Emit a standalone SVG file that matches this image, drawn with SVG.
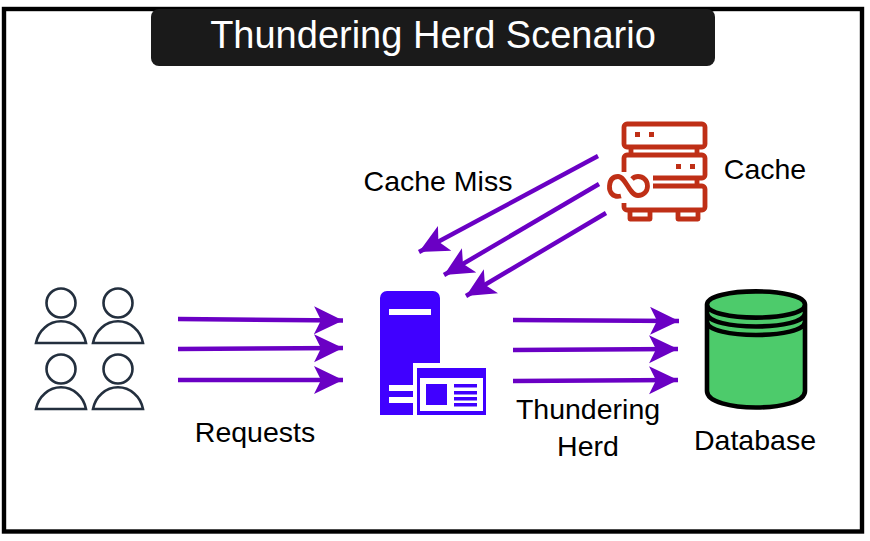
<svg xmlns="http://www.w3.org/2000/svg" width="870" height="541" viewBox="0 0 870 541">
<style>
text{font-family:"Liberation Sans",Arial,sans-serif;font-size:28.500px;fill:#000}
.a{fill:none;stroke:#6a00c4;stroke-width:4.4}
.h{fill:#6a00c4}
.u{fill:#fff;stroke:#232f3e;stroke-width:2.6}
.r{fill:none;stroke:#bf2f16;stroke-width:4.8;stroke-linejoin:round}
.s{fill:#bf2f16}
.w{fill:#fff}
.b{fill:#4000ff}
.d{fill:none;stroke:#000;stroke-width:4.6}
</style>
<defs>
<marker id="ah" markerUnits="userSpaceOnUse" markerWidth="32" markerHeight="30" refX="29" refY="14" orient="auto"><path class="h" d="M0 0L29 14L0 28L7 14Z"/></marker>
<g id="person"><path class="u" d="M-25 0A25.500 27 0 0 1 25 0Z"/><circle cx="0" cy="-40" r="14.500" class="u"/></g>
</defs>
<rect x="4" y="9" width="858" height="522.500" fill="#fff" stroke="#000" stroke-width="4.400"/>
<g id="title"><rect x="151" y="9" width="564" height="57" rx="8" fill="#1a1a1a"/><text x="433" y="48" text-anchor="middle" style="font-size:38px;fill:#fff">Thundering Herd Scenario</text></g>
<g id="connectors">
<path class="a" marker-end="url(#ah)" d="M178 319L343 320.500"/>
<path class="a" marker-end="url(#ah)" d="M178 349L343 348"/>
<path class="a" marker-end="url(#ah)" d="M178 380L343 380"/>
<path class="a" marker-end="url(#ah)" d="M513 320L679 321"/>
<path class="a" marker-end="url(#ah)" d="M513 350L678 349"/>
<path class="a" marker-end="url(#ah)" d="M513 381L678 380"/>
<path class="a" marker-end="url(#ah)" d="M598 156L419 252"/>
<path class="a" marker-end="url(#ah)" d="M599 184L444 275"/>
<path class="a" marker-end="url(#ah)" d="M606 213L466 296"/>
</g>
<g id="users"><use href="#person" x="61" y="343"/><use href="#person" x="118" y="343"/><use href="#person" x="61" y="409"/><use href="#person" x="118" y="409"/></g>
<g id="server">
<path class="b" d="M380 298a7 7 0 0 1 7-7H433a7 7 0 0 1 7 7V363H413V415H380Z"/>
<rect class="w" x="389" y="309" width="42" height="6"/><rect class="w" x="389" y="385" width="24" height="6"/><rect class="w" x="389" y="397" width="24" height="6"/>
<rect class="b" x="417" y="368" width="69" height="47"/><rect class="w" x="420" y="378" width="63" height="33"/>
<rect class="b" x="426" y="384" width="21" height="21"/>
<rect class="b" x="454" y="384" width="23" height="3.500"/><rect class="b" x="454" y="391" width="23" height="3.500"/><rect class="b" x="454" y="397" width="23" height="3.500"/><rect class="b" x="454" y="403" width="23" height="3.500"/>
</g>
<g id="cache">
<rect class="r" x="624" y="124" width="81" height="23" rx="3"/>
<path class="r" d="M631 147V155M697 147V155"/>
<path class="r" d="M624 172V158a3 3 0 0 1 3-3H702a3 3 0 0 1 3 3V175a3 3 0 0 1-3 3H653"/>
<path class="r" d="M653 186H702a3 3 0 0 1 3 3V207a3 3 0 0 1-3 3H627a3 3 0 0 1-3-3V203M697 178V186"/>
<path class="r" d="M630 210V219H650V210M678 210V219H698V210"/>
<rect class="s" x="635" y="132" width="5" height="5"/><rect class="s" x="649" y="132" width="5" height="5"/>
<rect class="s" x="676" y="164" width="5" height="5"/><rect class="s" x="690" y="164" width="5" height="5"/>
<path class="r" d="M621 196C613 198 609 192 609.500 186C610 180 613 176.500 618 176.500C626 176.500 629 195.500 638 195.500C644 195.500 647.500 191 647.500 186C647.500 180 643 176.500 638 176.500C636 176.500 634 177 632 179"/>
</g>
<g id="database">
<path d="M707 304.500V391C707 413 805 413 805 391V304.500C805 287 707 287 707 304.500Z" fill="#4dcb6b"/>
<path class="d" d="M707 304.500V391C707 413 805 413 805 391V304.500C805 287 707 287 707 304.500C707 322 805 322 805 304.500M707 313C707 331 805 331 805 313M707 321.500C707 339.500 805 339.500 805 321.500"/>
</g>
<text x="438" y="191" text-anchor="middle">Cache Miss</text>
<text x="765" y="179" text-anchor="middle">Cache</text>
<text x="255" y="442" text-anchor="middle">Requests</text>
<text x="588" y="419" text-anchor="middle">Thundering</text>
<text x="588" y="456" text-anchor="middle">Herd</text>
<text x="755" y="450" text-anchor="middle">Database</text>
</svg>
